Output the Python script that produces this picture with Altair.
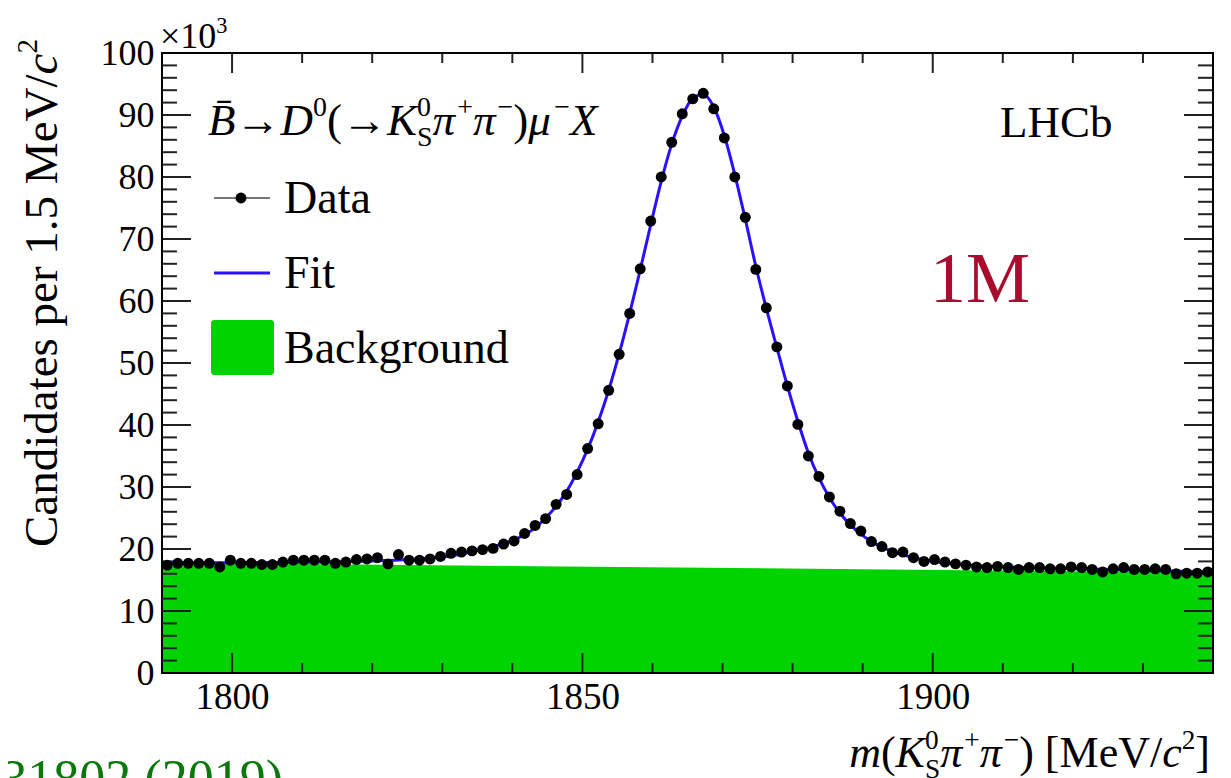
import altair as alt
import pandas as pd

# ---------------- data (candidates, in units of 10^3) ----------------
X_LO, X_HI, BIN_W = 1790.0, 1940.0, 1.5

counts = [
    17.4, 17.7, 17.7, 17.7, 17.7, 17.1, 18.2, 17.7, 17.7, 17.5,
    17.5, 17.9, 18.2, 18.2, 18.2, 18.2, 17.7, 17.9, 18.3, 18.4,
    18.6, 17.6, 19.1, 18.2, 18.2, 18.4, 18.8, 19.3, 19.5, 19.7,
    19.9, 20.1, 20.8, 21.3, 22.5, 23.8, 24.9, 27.2, 28.8, 32.0,
    36.2, 40.2, 45.6, 51.4, 58.0, 65.2, 72.9, 80.0, 85.6, 90.2,
    92.6, 93.5, 91.0, 86.3, 80.0, 73.5, 65.1, 58.9, 52.6, 46.3,
    40.1, 35.0, 31.7, 28.4, 26.1, 24.1, 22.9, 21.2, 20.4, 19.4,
    19.5, 18.6, 18.0, 18.3, 17.9, 17.6, 17.4, 17.1, 17.0, 17.2,
    17.0, 16.7, 17.0, 17.0, 16.8, 16.8, 17.1, 17.0, 16.7, 16.3,
    16.8, 17.0, 16.7, 16.7, 16.8, 16.7, 16.0, 16.1, 16.1, 16.3,
]

fit_vals = [
    17.78, 17.78, 17.78, 17.79, 17.79, 17.80, 17.80, 17.81, 17.81, 17.82,
    17.82, 17.83, 17.85, 17.86, 17.88, 17.90, 17.93, 17.96, 18.00, 18.04,
    18.09, 18.15, 18.22, 18.30, 18.40, 18.53, 18.70, 18.92, 19.20, 19.55,
    19.95, 20.38, 20.88, 21.48, 22.30, 23.40, 25.00, 26.90, 29.30, 32.40,
    36.10, 40.50, 45.60, 51.50, 58.00, 65.00, 72.30, 79.30, 85.30, 89.80,
    92.70, 93.30, 91.30, 86.70, 80.40, 73.20, 65.60, 58.80, 52.50, 46.30,
    40.60, 35.50, 31.50, 28.30, 25.80, 23.90, 22.40, 21.20, 20.30, 19.60,
    19.05, 18.60, 18.25, 17.97, 17.75, 17.57, 17.43, 17.32, 17.23, 17.15,
    17.09, 17.04, 17.00, 16.96, 16.92, 16.88, 16.84, 16.80, 16.76, 16.72,
    16.68, 16.64, 16.60, 16.56, 16.52, 16.48, 16.44, 16.40, 16.36, 16.32,
]

bg_x = [1790.0, 1940.0]
bg_y = [17.8, 16.2]

x_major_ticks = [1800, 1850, 1900]
x_minor_ticks = [1810, 1820, 1830, 1840, 1860, 1870, 1880, 1890, 1910, 1920, 1930]
y_major_ticks = list(range(0, 101, 10))
y_minor_ticks = [v for v in range(2, 100, 2) if v % 10 != 0]

centers = [X_LO + BIN_W * (i + 0.5) for i in range(len(counts))]

# ---------------- style / layout ----------------
FONT = "Liberation Serif, Times New Roman, serif"
GREEN = "#00d400"
BLUE = "#2a10ff"
TICK = "#222222"
W, H = 1051, 620
PAD = {"left": 154, "top": 45, "right": 10, "bottom": 105}
OX, OY = 8 + PAD["left"], 8 + PAD["top"]

dummy = pd.DataFrame({"d": [0]})


def V(px, py):
    return px - OX, py - OY


W_REG = {" ": .25, "(": .333, ")": .333, ".": .25, "/": .278, "[": .333, "]": .333,
         "B": .667, "C": .667, "D": .722, "F": .556, "H": .722, "L": .611, "M": .889,
         "V": .722, "S": .556, "a": .444, "b": .5, "c": .444, "d": .5, "e": .444,
         "g": .5, "i": .278, "k": .5, "n": .5, "o": .5, "p": .5, "r": .333, "s": .389,
         "t": .278, "u": .5, "+": .564, "\u2212": .564, "\u00d7": .564, "\u2192": 1.0}
W_IT = {"B": .611, "D": .722, "K": .667, "X": .611, "m": .722, "c": .444,
        "\u03c0": .549, "\u03bc": .576, "\u0304": 0.0}
SUP = 0.62


def seg_width(t, italic, size):
    tot = 0.0
    for ch in t:
        if italic and ch in W_IT:
            tot += W_IT[ch]
        else:
            tot += W_REG.get(ch, 0.5)
    return tot * size


def text_layer(t, px, py, size, italic=False, color="black", angle=0, align="left"):
    vx, vy = V(px, py)
    return alt.Chart(dummy).mark_text(
        font=FONT, fontSize=size, fontStyle="italic" if italic else "normal",
        align=align, baseline="alphabetic", angle=angle, color=color,
    ).encode(x=alt.value(vx), y=alt.value(vy), text=alt.value(t))


def rich(segs, px, py, size, angle=0, color="black", right=False):
    items, total = [], 0.0
    for s in segs:
        kind = s[0]
        if kind == "n":
            _, t, it = s
            items.append((total, [(t, it, size, 0.0)]))
            total += seg_width(t, it, size)
        elif kind == "sup":
            _, t, it = s
            fs = size * SUP
            items.append((total, [(t, it, fs, 0.42 * size)]))
            total += seg_width(t, it, fs)
        elif kind == "ss":
            _, tsup, tsub = s
            fs = size * SUP
            items.append((total, [(tsup, False, fs, 0.42 * size), (tsub, False, fs, -0.25 * size)]))
            total += max(seg_width(tsup, False, fs), seg_width(tsub, False, fs))
    start = -total if right else 0.0
    if angle == 0:
        dx, dy, ux, uy = 1, 0, 0, -1
    else:
        dx, dy, ux, uy = 0, -1, -1, 0
    out = []
    for adv, parts in items:
        for t, it, fs, rise in parts:
            a = adv + start
            out.append(text_layer(t, px + a * dx + rise * ux, py + a * dy + rise * uy,
                                  fs, it, color, angle))
    return out


xs = alt.Scale(domain=[X_LO, X_HI], nice=False, zero=False)
ys = alt.Scale(domain=[0, 100], nice=False, zero=True)
X_AX = alt.Axis(values=x_major_ticks, format="d", tickSize=0, domain=False, grid=False,
                labelFont=FONT, labelFontSize=37, labelColor="black", labelPadding=6,
                labelFlush=False, labelOverlap=False, title=None)
Y_AX = alt.Axis(values=y_major_ticks, format="d", tickSize=0, domain=False, grid=False,
                labelFont=FONT, labelFontSize=36, labelColor="black", labelPadding=8,
                labelFlush=False, labelOverlap=False, title=None)

df = pd.DataFrame({"m": centers, "n": counts, "fit": fit_vals})
bg_df = pd.DataFrame({"m": bg_x, "b": bg_y})

layers = []
layers.append(alt.Chart(bg_df).mark_area(color=GREEN, opacity=1, clip=True).encode(
    x=alt.X("m:Q", scale=xs, axis=X_AX), y=alt.Y("b:Q", scale=ys, axis=Y_AX)))


# ROOT-style inward ticks on all four sides
def xticks(vals, length):
    d = pd.DataFrame({"v": vals})
    bot = alt.Chart(d).mark_rule(color=TICK, strokeWidth=2).encode(
        x=alt.X("v:Q", scale=xs, axis=X_AX), y=alt.value(H), y2=alt.value(H - length))
    top = alt.Chart(d).mark_rule(color=TICK, strokeWidth=2).encode(
        x=alt.X("v:Q", scale=xs, axis=X_AX), y=alt.value(0), y2=alt.value(length))
    return [bot, top]


def yticks(vals, length):
    d = pd.DataFrame({"v": vals})
    lft = alt.Chart(d).mark_rule(color=TICK, strokeWidth=2).encode(
        y=alt.Y("v:Q", scale=ys, axis=Y_AX), x=alt.value(0), x2=alt.value(length))
    rgt = alt.Chart(d).mark_rule(color=TICK, strokeWidth=2).encode(
        y=alt.Y("v:Q", scale=ys, axis=Y_AX), x=alt.value(W), x2=alt.value(W - length))
    return [lft, rgt]


layers += xticks(x_major_ticks, 20) + xticks(x_minor_ticks, 10)
layers += yticks(y_major_ticks, 29) + yticks(y_minor_ticks, 15)

layers.append(alt.Chart(df).mark_line(color=BLUE, strokeWidth=3, interpolate="monotone", clip=True).encode(
    x=alt.X("m:Q", scale=xs, axis=X_AX), y=alt.Y("fit:Q", scale=ys, axis=Y_AX)))
layers.append(alt.Chart(df).mark_circle(color="black", size=120, opacity=1, clip=True).encode(
    x=alt.X("m:Q", scale=xs, axis=X_AX), y=alt.Y("n:Q", scale=ys, axis=Y_AX)))

# frame
layers.append(alt.Chart(dummy).mark_rect(fillOpacity=0, stroke="black", strokeWidth=2).encode(
    x=alt.value(0), x2=alt.value(W), y=alt.value(0), y2=alt.value(H)))


# legend
def hrule(x1, x2, y, color, sw):
    a, b = V(x1, y)
    c, _ = V(x2, y)
    return alt.Chart(dummy).mark_rule(color=color, strokeWidth=sw).encode(
        x=alt.value(a), x2=alt.value(c), y=alt.value(b))


layers.append(hrule(214, 270, 198, "#777777", 2))
cx, cy = V(241, 198)
layers.append(alt.Chart(dummy).mark_circle(color="black", size=120, opacity=1).encode(
    x=alt.value(cx), y=alt.value(cy)))
layers.append(hrule(214, 270, 273, BLUE, 3))
r1 = V(211, 320)
r2 = V(274, 375)
layers.append(alt.Chart(dummy).mark_rect(color=GREEN, cornerRadius=3).encode(
    x=alt.value(r1[0]), x2=alt.value(r2[0]), y=alt.value(r1[1]), y2=alt.value(r2[1])))
layers.append(text_layer("Data", 284, 213, 46))
layers.append(text_layer("Fit", 284, 288, 46))
layers.append(text_layer("Background", 284, 363, 46))

# decay title
layers += rich([
    ("n", "B\u0304", True), ("n", "\u2192", False), ("n", "D", True), ("sup", "0", False),
    ("n", "(", False), ("n", "\u2192", False), ("n", "K", True), ("ss", "0", "S"),
    ("n", "\u03c0", True), ("sup", "+", False), ("n", "\u03c0", True), ("sup", "\u2212", False),
    ("n", ")", False), ("n", "\u03bc", True), ("sup", "\u2212", False), ("n", "X", True),
], 208, 135, 45)

layers.append(text_layer("LHCb", 1000, 137, 45))
layers.append(text_layer("1M", 930, 302, 72, color="#a80c2e"))

# exponent
layers += rich([("n", "\u00d710", False), ("sup", "3", False)], 160, 48, 36)

# axis titles
layers += rich([
    ("n", "m", True), ("n", "(", False), ("n", "K", True), ("ss", "0", "S"),
    ("n", "\u03c0", True), ("sup", "+", False), ("n", "\u03c0", True), ("sup", "\u2212", False),
    ("n", ") [MeV/", False), ("n", "c", True), ("sup", "2", False), ("n", "]", False),
], 1210, 767, 44, right=True)

layers += rich([
    ("n", "Candidates per 1.5 MeV/", False), ("n", "c", True), ("sup", "2", False),
], 57, 547, 47, angle=270)

# reference (cropped at the page edge)
layers.append(text_layer("Phys. Rev. Lett. 122, 231802 (2019)", 283, 796, 52,
                         color="#0a780a", align="right"))

chart = alt.layer(*layers).properties(
    width=W, height=H, padding=PAD, autosize=alt.AutoSizeParams(type="none"),
).configure_view(strokeWidth=0)

chart.save("out.html", embed_options={"renderer": "svg", "actions": False})
